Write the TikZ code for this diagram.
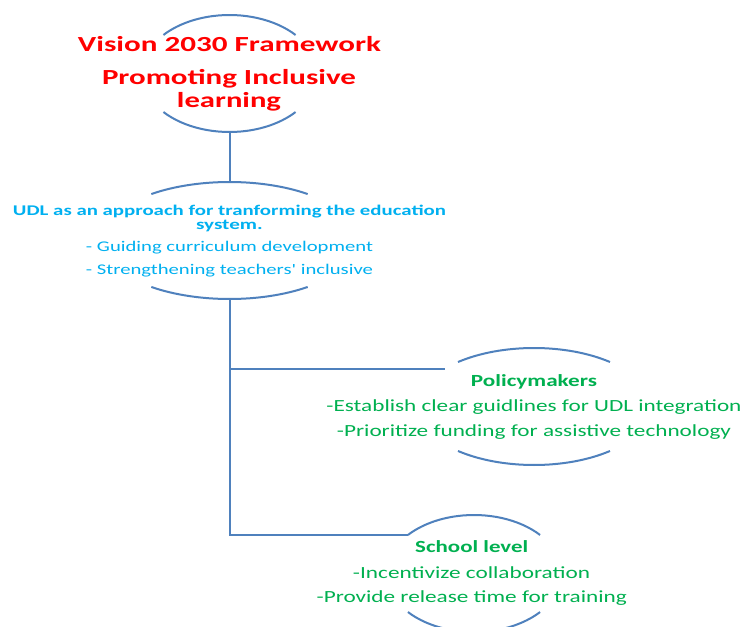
\documentclass[tikz,border=0pt]{standalone}
\usepackage{fontspec}
\setmainfont{Carlito}
\usepackage{graphicx}
\usetikzlibrary{shapes.geometric}

\definecolor{linkblue}{RGB}{79,129,189}
\definecolor{titlered}{RGB}{255,0,0}
\definecolor{udlblue}{RGB}{0,176,240}
\definecolor{actgreen}{RGB}{0,176,80}

% one text line stretched to a given width, height left as it is
\newcommand{\wline}[2]{\resizebox{#1pt}{\height}{#2}}

% the upper and lower arcs of an oval whose sides are left open
% #1 node, #2 x radius, #3 y radius, #4 angle where the arcs stop
\newcommand{\ovalarcs}[4]{%
  \draw[ln] ([shift={(#4:#2pt and #3pt)}]#1.center)
    arc[start angle=#4, end angle=180-#4, x radius=#2pt, y radius=#3pt];
  \draw[ln] ([shift={(180+#4:#2pt and #3pt)}]#1.center)
    arc[start angle=180+#4, end angle=360-#4, x radius=#2pt, y radius=#3pt];}

\begin{document}
\begin{tikzpicture}[x=1pt,y=1pt,
  ln/.style={draw=linkblue, line width=2pt},
  oval/.style={ellipse, draw=none, inner sep=0pt, outer sep=0pt},
  txt/.style={anchor=base, inner sep=0pt},
  ttl/.style={txt, text=titlered, font=\fontsize{21.5}{24}\selectfont\bfseries},
  udl/.style={txt, text=udlblue, font=\fontsize{14.8}{17}\selectfont},
  grn/.style={txt, text=actgreen, font=\fontsize{17}{20}\selectfont}]

\fill[white] (0,0) rectangle (748,-627);
\useasboundingbox (0,0) rectangle (748,-627);

% ovals
\node[oval, minimum width=175.6pt, minimum height=117pt] (vision) at (229.5,-73.5) {};
\node[oval, minimum width=257.4pt, minimum height=117pt] (udlapp) at (229.5,-240.5) {};
\node[oval, minimum width=234pt,   minimum height=117pt] (policy) at (534,-406.5) {};
\node[oval, minimum width=175.6pt, minimum height=117pt] (school) at (474,-573.5) {};

\ovalarcs{vision}{87.8}{58.5}{41.2}
\ovalarcs{udlapp}{128.7}{58.5}{52.6}
\ovalarcs{policy}{117}{58.5}{49.5}
\ovalarcs{school}{87.8}{58.5}{41.2}

% connectors
\draw[ln] (vision.south) -- (udlapp.north);
\draw[ln] (udlapp.south) |- (policy.157.3);
\draw[ln] (udlapp.south) |- (school.150.9);

% title
\node[ttl] (t1) at (229.5,-51.7) {\wline{303}{Vision 2030 Framework}};
\node[ttl] (t2) at (229,-84.3)   {\wline{254}{Promoting Inclusive}};
\node[ttl] (t3) at (229,-107.6)  {\wline{104}{learning}};

% UDL block
\node[udl, font=\fontsize{14.8}{17}\selectfont\bfseries] (u1) at (229.5,-215)
  {\wline{433}{UDL as an approach for tranforming the education}};
\node[udl, font=\fontsize{14.8}{17}\selectfont\bfseries] (u2) at (229.4,-229.3)
  {\wline{66.7}{system.}};
\node[udl] (u3) at (229.5,-251.7) {\wline{287}{- Guiding curriculum development}};
\node[udl] (u4) at (229.5,-274)   {\wline{287}{- Strengthening teachers\textquotesingle\ inclusive}};

% policymakers block
\node[grn, font=\fontsize{17}{20}\selectfont\bfseries] (p1) at (534,-386.7)
  {\wline{126}{Policymakers}};
\node[grn] (p2) at (534,-411.7) {\wline{415}{-Establish clear guidlines for UDL integration}};
\node[grn] (p3) at (534,-436)   {\wline{394}{-Prioritize funding for assistive technology}};

% school level block
\node[grn, font=\fontsize{17}{20}\selectfont\bfseries] (s1) at (471.7,-552.7)
  {\wline{113}{School level}};
\node[grn] (s2) at (471.5,-578)   {\wline{237}{-Incentivize collaboration}};
\node[grn] (s3) at (471.7,-602.7) {\wline{310}{-Provide release time for training}};

\end{tikzpicture}
\end{document}
